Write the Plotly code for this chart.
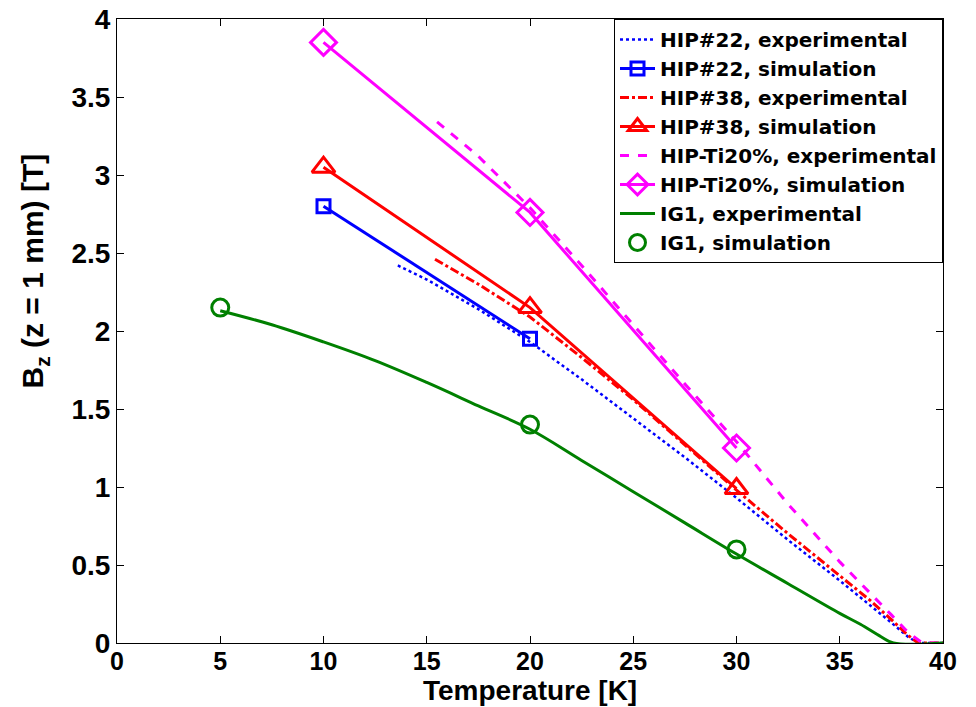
import plotly.graph_objects as go

# Simulation points
sim_T_hip22 = [10, 20]
sim_B_hip22 = [2.80, 1.95]
sim_T_hip38 = [10, 20, 30]
sim_B_hip38 = [3.05, 2.15, 0.99]
sim_T_ti20 = [10, 20, 30]
sim_B_ti20 = [3.85, 2.76, 1.25]
sim_T_ig1 = [5, 20, 30]
sim_B_ig1 = [2.15, 1.40, 0.60]

# Experimental curves
exp_T_hip22 = [13.6, 15, 17.5, 20, 22.5, 25, 27.5, 30, 32.5, 35, 36.5, 37.5, 38.3, 38.8, 40]
exp_B_hip22 = [2.42, 2.33, 2.14, 1.93, 1.69, 1.44, 1.19, 0.93, 0.66, 0.40, 0.24, 0.13, 0.04, 0.0, 0.0]
exp_T_hip38 = [15.4, 17.5, 20, 22.5, 25, 27.5, 30, 32.5, 35, 36.5, 37.5, 38.3, 38.8, 40]
exp_B_hip38 = [2.46, 2.30, 2.09, 1.83, 1.56, 1.27, 0.98, 0.70, 0.43, 0.27, 0.15, 0.05, 0.0, 0.0]
exp_T_ti20 = [15.5, 17.5, 20, 22.5, 25, 27.5, 30, 32.5, 35, 36.5, 37.5, 38.3, 39, 40]
exp_B_ti20 = [3.34, 3.12, 2.79, 2.42, 2.04, 1.66, 1.29, 0.89, 0.52, 0.32, 0.18, 0.07, 0.0, 0.0]
exp_T_ig1 = [5, 7.5, 10, 12.5, 15, 17.5, 20, 22.5, 25, 27.5, 30, 32.5, 35, 36, 37, 37.6, 40]
exp_B_ig1 = [2.13, 2.04, 1.93, 1.81, 1.67, 1.52, 1.37, 1.17, 0.97, 0.77, 0.57, 0.38, 0.19, 0.12, 0.04, 0.0, 0.0]

x_ticks = [0, 5, 10, 15, 20, 25, 30, 35, 40]
y_ticks = [0, 0.5, 1, 1.5, 2, 2.5, 3, 3.5, 4]
y_tick_labels = ["0", "0.5", "1", "1.5", "2", "2.5", "3", "3.5", "4"]
x_title = "Temperature [K]"
y_title = "B<sub>z</sub> (z = 1 mm) [T]"

BLUE = "#0000FF"
RED = "#FF0000"
MAG = "#FF00FF"
GREEN = "#008000"

fig = go.Figure()
fig.add_trace(go.Scatter(x=exp_T_hip22, y=exp_B_hip22, mode="lines", name="HIP#22, experimental",
                         line=dict(color=BLUE, width=2.5, dash="dot")))
fig.add_trace(go.Scatter(x=sim_T_hip22, y=sim_B_hip22, mode="lines+markers", name="HIP#22, simulation",
                         line=dict(color=BLUE, width=3),
                         marker=dict(symbol="square-open", size=13, color=BLUE, line=dict(width=3, color=BLUE))))
fig.add_trace(go.Scatter(x=exp_T_hip38, y=exp_B_hip38, mode="lines", name="HIP#38, experimental",
                         line=dict(color=RED, width=3, dash="dashdot")))
fig.add_trace(go.Scatter(x=sim_T_hip38, y=sim_B_hip38, mode="lines+markers", name="HIP#38, simulation",
                         line=dict(color=RED, width=3),
                         marker=dict(symbol="triangle-up-open", size=20, color=RED, line=dict(width=3, color=RED))))
fig.add_trace(go.Scatter(x=exp_T_ti20, y=exp_B_ti20, mode="lines", name="HIP-Ti20%, experimental",
                         line=dict(color=MAG, width=3, dash="dash")))
fig.add_trace(go.Scatter(x=sim_T_ti20, y=sim_B_ti20, mode="lines+markers", name="HIP-Ti20%, simulation",
                         line=dict(color=MAG, width=3),
                         marker=dict(symbol="diamond-open", size=20, color=MAG, line=dict(width=3, color=MAG))))
fig.add_trace(go.Scatter(x=exp_T_ig1, y=exp_B_ig1, mode="lines", name="IG1, experimental",
                         line=dict(color=GREEN, width=3), line_shape="spline"))
fig.add_trace(go.Scatter(x=sim_T_ig1, y=sim_B_ig1, mode="markers", name="IG1, simulation",
                         marker=dict(symbol="circle-open", size=17, color=GREEN, line=dict(width=3, color=GREEN))))

font_family = "Liberation Sans, Arial, sans-serif"
legend_family = "DejaVu Sans, Liberation Sans, sans-serif"
fig.update_layout(
    width=976, height=707,
    margin=dict(l=117, r=33, t=19, b=64, autoexpand=False),
    paper_bgcolor="white", plot_bgcolor="white",
    font=dict(family=font_family, size=24, color="black", weight="bold"),
    showlegend=True,
    legend=dict(x=1, y=1, xanchor="right", yanchor="top",
                bgcolor="white", bordercolor="black", borderwidth=1,
                font=dict(size=20, family=legend_family, weight="bold"),
                tracegroupgap=0, itemwidth=35),
    xaxis=dict(range=[0, 40], tickvals=x_ticks, ticks="inside", ticklen=7, tickwidth=1,
               tickcolor="black", showline=True, linecolor="black", linewidth=1, mirror="ticks",
               showgrid=False, zeroline=False, automargin=False, ticklabelstandoff=-4,
               tickfont=dict(size=25, family=font_family, weight="bold")),
    yaxis=dict(range=[0, 4], tickvals=y_ticks, ticktext=y_tick_labels, ticks="inside", ticklen=7, tickwidth=1,
               tickcolor="black", showline=True, linecolor="black", linewidth=1, mirror="ticks",
               showgrid=False, zeroline=False, automargin=False,
               tickfont=dict(size=28, family=font_family, weight="bold")),
)
fig.add_annotation(text=x_title, xref="paper", yref="paper", x=0.5, y=-0.1026,
                   xanchor="center", yanchor="bottom", showarrow=False, borderpad=0,
                   font=dict(size=28, family=font_family, weight="bold", color="black"))
fig.add_annotation(text=y_title, xref="paper", yref="paper", x=-0.1, y=0.596,
                   xanchor="center", yanchor="middle", textangle=-90, showarrow=False,
                   font=dict(size=30, family=font_family, weight="bold", color="black"))

fig.write_html("out.html")
